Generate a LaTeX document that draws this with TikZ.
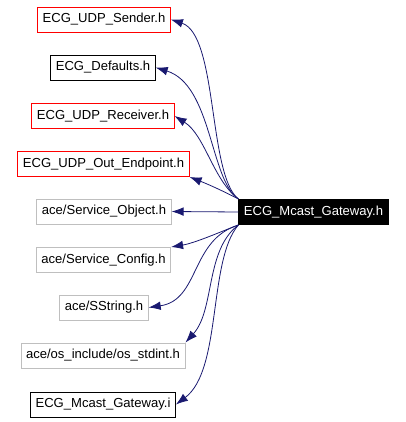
\documentclass[tikz,border=0pt]{standalone}
\usepackage{fontspec}
\setmainfont{Liberation Sans}
\usepackage{xcolor}
\usetikzlibrary{arrows.meta}

\definecolor{edgeblue}{HTML}{191970}
\definecolor{extgray}{HTML}{BFBFBF}

\begin{document}
\begin{tikzpicture}[x=0.75pt, y=-0.75pt,
  filebox/.style={draw, line width=0.75pt, inner xsep=3.75pt, inner ysep=0pt,
    minimum height=18.75pt, font=\fontsize{9.8}{12}\selectfont},
  localfile/.style={filebox, draw=red},
  plainfile/.style={filebox, draw=black},
  acefile/.style={filebox, draw=extgray},
  mainfile/.style={filebox, draw=black, fill=black, text=white},
  incl/.style={draw=edgeblue, line width=0.6pt, -{Latex[length=9pt, width=6.5pt]}, fill=none}]

% Page frame (pixel coordinates)
\useasboundingbox (0,0) rectangle (406,422);

% Included files
\node[localfile] (sender)   at (104, 19.5)  {ECG\_UDP\_Sender.h};
\node[plainfile] (defaults) at (103, 67.5)  {ECG\_Defaults.h};
\node[localfile] (receiver) at (103, 116)   {ECG\_UDP\_Receiver.h};
\node[localfile] (endpoint) at (103.5, 164) {ECG\_UDP\_Out\_Endpoint.h};
\node[acefile]   (svcobj)   at (104, 211.5) {ace/Service\_Object.h};
\node[acefile]   (svccfg)   at (103.5, 260) {ace/Service\_Config.h};
\node[acefile]   (sstring)  at (104, 307.5) {ace/SString.h};
\node[acefile]   (stdint)   at (103, 355.5) {ace/os\_include/os\_stdint.h};
\node[plainfile] (inline)   at (103, 404.5) {ECG\_Mcast\_Gateway.i};

% The header itself
\node[mainfile] (gateway) at (313.5, 212) {ECG\_Mcast\_Gateway.h};

% Include edges
\draw[incl] (gateway.north west) .. controls (208,175) and (218,35) .. (sender.east);
\draw[incl] (gateway.north west) .. controls (210,180) and (212,85) .. (defaults.east);
\draw[incl] (gateway.north west) .. controls (213,180) and (205,135) .. (receiver.east);
\draw[incl] (gateway.north west) .. controls (225,192) and (210,185) .. (endpoint.south east);
\draw[incl] (gateway.west) -- (svcobj.east);
\draw[incl] (gateway.south west) .. controls (220,232) and (195,243) .. (svccfg.north east);
\draw[incl] (gateway.south west) .. controls (190,240) and (200,300) .. (sstring.east);
\draw[incl] (gateway.south west) .. controls (205,250) and (215,310) .. (stdint.north east);
\draw[incl] (gateway.south west) .. controls (208,260) and (222,370) .. (inline.east);

\end{tikzpicture}
\end{document}
